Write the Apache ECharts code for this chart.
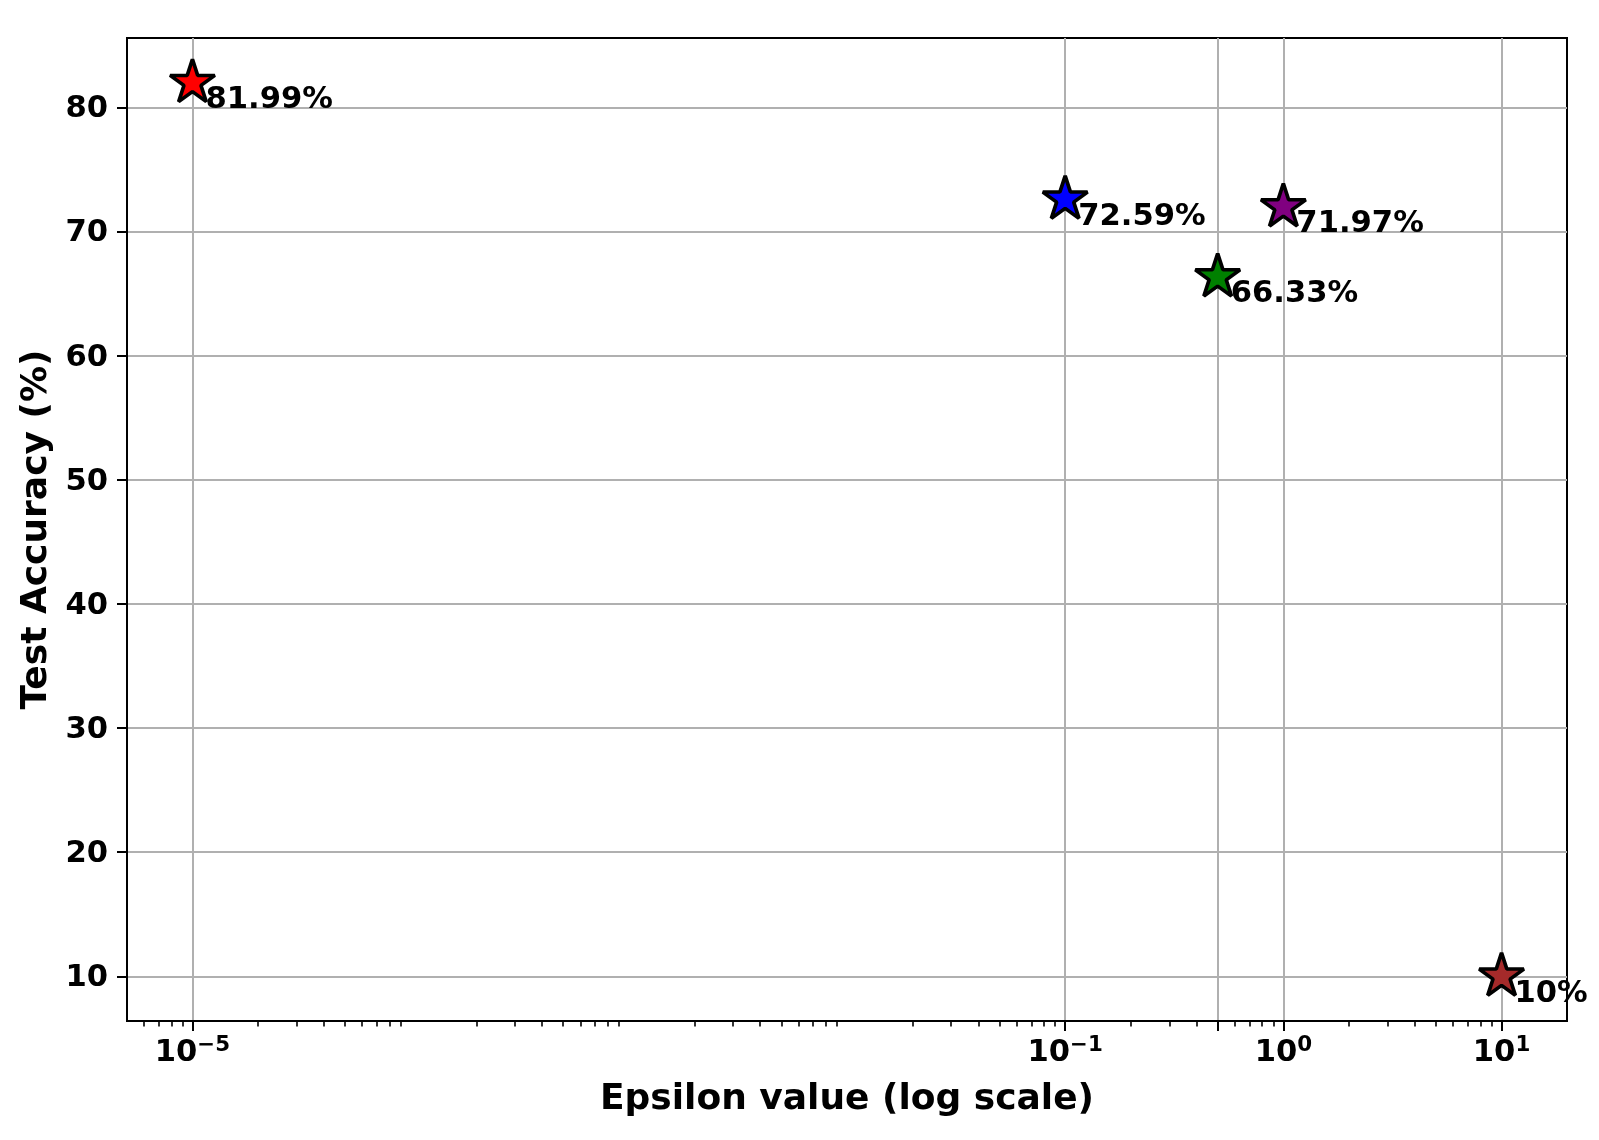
<!DOCTYPE html>
<html><head><meta charset="utf-8">
<script src="https://cdn.jsdelivr.net/npm/echarts@6/dist/echarts.min.js"></script>
<style>html,body{margin:0;padding:0;background:#fff}#c{width:1599px;height:1140px}</style>
</head><body><div id="c"></div>
<script>
// ---- data ----
const epsilons = [1e-5, 0.1, 0.5, 1, 10];
const accuracies = [81.99, 72.59, 66.33, 71.97, 10];
const pointColors = ['#ff0000', '#0000ff', '#008000', '#800080', '#a52a2a'];
// ---- ticks ----
const xMajorTicks = [1e-5, 0.1, 0.5, 1, 10];
const xLabelValues = [1e-5, 0.1, 1, 10];
const xLabelExponents = ['\u22125', '\u22121', '0', '1'];
const xMinorTicks = [6e-6, 7e-6, 8e-6, 9e-6,
  2e-5, 3e-5, 4e-5, 5e-5, 6e-5, 7e-5, 8e-5, 9e-5,
  2e-4, 3e-4, 4e-4, 5e-4, 6e-4, 7e-4, 8e-4, 9e-4,
  2e-3, 3e-3, 4e-3, 5e-3, 6e-3, 7e-3, 8e-3, 9e-3,
  0.02, 0.03, 0.04, 0.05, 0.06, 0.07, 0.08, 0.09,
  0.2, 0.3, 0.4, 0.6, 0.7, 0.8, 0.9,
  2, 3, 4, 5, 6, 7, 8, 9];
const yTicks = [10, 20, 30, 40, 50, 60, 70, 80];
const xTitle = 'Epsilon value (log scale)';
const yTitle = 'Test Accuracy (%)';
const xMin = Math.pow(10, -5.3), xMax = Math.pow(10, 1.3);
const yMin = 6.4005, yMax = 85.5895;

const FONT = 'DejaVu Sans';
const R = 23.5;
const starPath = 'path://M0,-100L22.45,-30.9L95.1,-30.9L36.33,11.8L58.78,80.9L0,38.2L-58.78,80.9L-36.33,11.8L-95.1,-30.9L-22.45,-30.9Z';

const chart = echarts.init(document.getElementById('c'), null, {renderer: 'canvas'});

const seriesData = epsilons.map((e, i) => ({
  value: [e, accuracies[i]],
  itemStyle: {color: pointColors[i]}
}));

function xLabelFmt(v) {
  for (let i = 0; i < xLabelValues.length; i++) {
    if (Math.abs(Math.log10(v) - Math.log10(xLabelValues[i])) < 1e-6) {
      return '{b|10}{s|' + xLabelExponents[i] + '}';
    }
  }
  return '';
}

chart.setOption({
  animation: false,
  backgroundColor: '#fff',
  grid: {left: 127, top: 38, width: 1440, height: 983, show: true, borderColor: '#000', borderWidth: 2, backgroundColor: 'transparent'},
  xAxis: [{
    type: 'log', logBase: 10, min: xMin, max: xMax, position: 'bottom',
    name: xTitle, nameLocation: 'middle', nameGap: 61, nameMoveOverlap: false,
    nameTextStyle: {fontSize: 36, fontWeight: 'bold', fontFamily: FONT, color: '#000'},
    axisLine: {show: true, lineStyle: {color: '#000', width: 2}},
    axisTick: {show: true, inside: false, length: 10, customValues: xMajorTicks, lineStyle: {color: '#000', width: 2}},
    axisLabel: {show: true, customValues: xLabelValues, margin: 14, formatter: xLabelFmt,
      rich: {
        b: {fontSize: 30.6, fontWeight: 'bold', fontFamily: FONT, color: '#000', lineHeight: 36},
        s: {fontSize: 21.4, fontWeight: 'bold', fontFamily: FONT, color: '#000', lineHeight: 21.4, verticalAlign: 'top'}
      }},
    splitLine: {show: true, lineStyle: {color: '#b0b0b0', width: 2}},
    minorTick: {show: false}, minorSplitLine: {show: false}
  }, {
    type: 'log', logBase: 10, min: xMin, max: xMax, position: 'bottom',
    axisLine: {show: false},
    axisTick: {show: true, inside: false, length: 5.6, customValues: xMinorTicks, lineStyle: {color: '#000', width: 1.6}},
    axisLabel: {show: false},
    splitLine: {show: false}
  }],
  yAxis: {
    type: 'value', min: yMin, max: yMax,
    name: yTitle, nameLocation: 'middle', nameGap: 72, nameMoveOverlap: false,
    nameTextStyle: {fontSize: 36, fontWeight: 'bold', fontFamily: FONT, color: '#000'},
    axisLine: {show: true, lineStyle: {color: '#000', width: 2}},
    axisTick: {show: true, inside: false, length: 10, customValues: yTicks, lineStyle: {color: '#000', width: 2}},
    axisLabel: {show: true, customValues: yTicks, margin: 19,
      formatter: v => '{a|' + v + '}',
      rich: {a: {fontSize: 30.6, fontWeight: 'bold', fontFamily: FONT, color: '#000', padding: [4, 0, 0, 0]}}},
    splitLine: {show: true, lineStyle: {color: '#b0b0b0', width: 2}}
  },
  series: [{
    type: 'scatter', xAxisIndex: 0, yAxisIndex: 0,
    symbol: starPath, symbolSize: [1.902 * R, 1.809 * R], symbolOffset: [0, -0.0955 * R],
    itemStyle: {borderColor: '#000', borderWidth: 3.6, borderJoin: 'bevel', opacity: 1},
    label: {show: true, position: 'inside', align: 'left', verticalAlign: 'top', offset: [13, 4],
      formatter: p => p.value[1] + '%',
      fontSize: 30.6, fontWeight: 'bold', fontFamily: FONT, color: '#000'},
    emphasis: {disabled: true},
    data: seriesData,
    z: 5
  }]
});
</script>
</body></html>
